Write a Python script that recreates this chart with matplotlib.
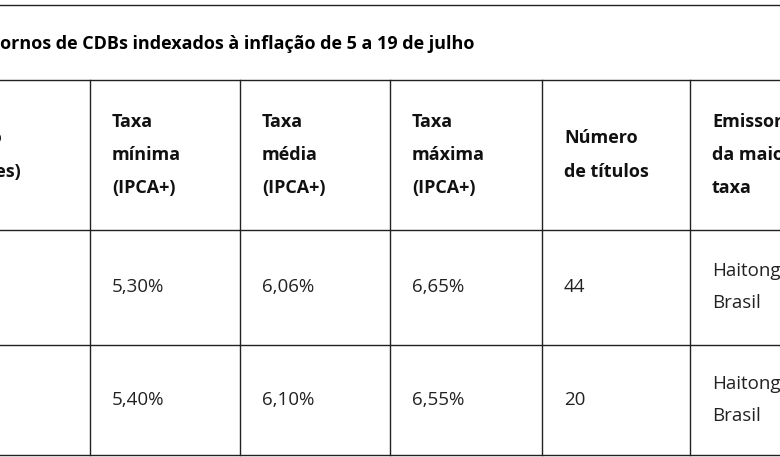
import matplotlib.pyplot as plt

title = "Retornos de CDBs indexados à inflação de 5 a 19 de julho"
headers = ["Prazo\n(meses)", "Taxa\nmínima\n(IPCA+)", "Taxa\nmédia\n(IPCA+)",
           "Taxa\nmáxima\n(IPCA+)", "Número\nde títulos", "Emissor\nda maior\ntaxa"]
prazo = ["", ""]
taxa_min = ["5,30%", "5,40%"]
taxa_med = ["6,06%", "6,10%"]
taxa_max = ["6,65%", "6,55%"]
num_titulos = ["44", "20"]
emissor = ["Haitong\nBrasil", "Haitong\nBrasil"]

col_x = [-70, 90, 240, 390, 542, 690, 840]
row_y = [80, 230, 345, 455]
line_c = "#222222"
fam = "Open Sans"

fig = plt.figure(figsize=(7.8, 4.57), dpi=100)
ax = fig.add_axes([0, 0, 1, 1])
ax.set_xlim(0, 780)
ax.set_ylim(457, 0)
ax.axis("off")

ax.axhline(5, color=line_c, lw=1)
ax.text(-30, 44, title, fontsize=13, fontweight="bold", family=fam, va="center")
for y in row_y:
    ax.axhline(y, color=line_c, lw=1)
for x in col_x[1:-1]:
    ax.plot([x, x], [row_y[0], row_y[-1]], color=line_c, lw=1)

for i, h in enumerate(headers):
    ax.text(col_x[i] + 22, (row_y[0] + row_y[1]) / 2, h, fontsize=13, fontweight="bold",
            family=fam, va="center", linespacing=2.1, color="#111111")

rows = list(zip(prazo, taxa_min, taxa_med, taxa_max, num_titulos, emissor))
for r, vals in enumerate(rows):
    yc = (row_y[r + 1] + row_y[r + 2]) / 2
    for i, v in enumerate(vals):
        ax.text(col_x[i] + 22, yc, v, fontsize=13.5, family=fam, va="center",
                linespacing=2.0, color="#222222")

fig.savefig("out.png", dpi=100)
